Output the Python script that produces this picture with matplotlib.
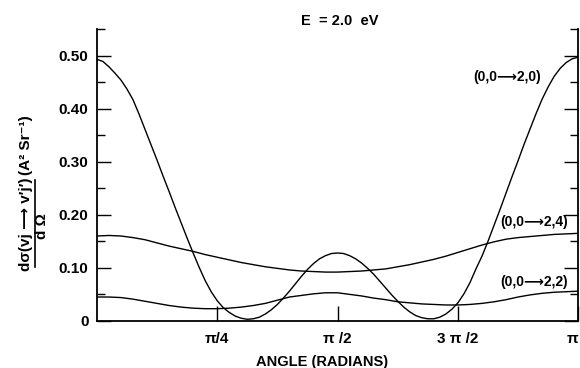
import matplotlib
import matplotlib.pyplot as plt
from matplotlib.lines import Line2D
from matplotlib.ticker import MultipleLocator
import numpy as np

matplotlib.use("Agg")

FONT = ["Liberation Sans Narrow", "Liberation Sans", "DejaVu Sans"]
plt.rcParams["font.family"] = FONT
plt.rcParams["font.weight"] = "bold"

# scattering angle in units of pi (fine grid for the strongly varying curve)
angle_fine = [i / 80 for i in range(81)]

# d sigma / d Omega for (0,0 -> 2,0)
xs_20 = [
    0.493, 0.489, 0.479, 0.467, 0.454, 0.437, 0.417, 0.390, 0.361, 0.332,
    0.303, 0.273, 0.244, 0.214, 0.185, 0.156, 0.128, 0.101, 0.076, 0.055,
    0.038, 0.025, 0.016, 0.009, 0.005, 0.003, 0.004, 0.007, 0.013, 0.021,
    0.031, 0.043, 0.056, 0.070, 0.084, 0.097, 0.108, 0.117, 0.123, 0.127,
    0.128, 0.127, 0.123, 0.117, 0.109, 0.099, 0.088, 0.075, 0.062, 0.049,
    0.037, 0.026, 0.017, 0.010, 0.006, 0.004, 0.004, 0.007, 0.013, 0.022,
    0.034, 0.051, 0.072, 0.098, 0.122, 0.150, 0.180, 0.210, 0.241, 0.272,
    0.302, 0.333, 0.362, 0.391, 0.418, 0.441, 0.461, 0.476, 0.487, 0.494,
    0.497,
]

# coarser grid for the two slowly varying curves
angle_pi = [i / 40 for i in range(41)]

# (0,0 -> 2,4)
xs_24 = [
    0.160, 0.161, 0.160, 0.157, 0.153, 0.147, 0.141, 0.136, 0.131, 0.125,
    0.120, 0.115, 0.110, 0.106, 0.102, 0.099, 0.096, 0.094, 0.093, 0.092,
    0.092, 0.093, 0.094, 0.096, 0.098, 0.102, 0.106, 0.111, 0.116, 0.122,
    0.129, 0.136, 0.143, 0.149, 0.154, 0.157, 0.159, 0.161, 0.163, 0.164,
    0.165,
]

# (0,0 -> 2,2)
xs_22 = [
    0.045, 0.045, 0.044, 0.041, 0.037, 0.033, 0.029, 0.026, 0.024, 0.023,
    0.023, 0.024, 0.026, 0.029, 0.033, 0.039, 0.045, 0.048, 0.051, 0.053,
    0.053, 0.050, 0.047, 0.043, 0.040, 0.036, 0.034, 0.032, 0.031, 0.030,
    0.030, 0.031, 0.033, 0.036, 0.040, 0.045, 0.049, 0.052, 0.054, 0.055,
    0.056,
]

curve_labels = ["(0,0\u27f62,0)", "(0,0\u27f62,4)", "(0,0\u27f62,2)"]
tick_pos_pi = [0.25, 0.5, 0.75, 1.0]
tick_text = ["\u03c0/4", "\u03c0 /2", "3 \u03c0 /2", "\u03c0"]
ytick_vals = [0, 0.1, 0.2, 0.3, 0.4, 0.5]
ytick_text = ["0", "0.10", "0.20", "0.30", "0.40", "0.50"]

fig = plt.figure(figsize=(5.8, 3.68), dpi=100)
ax = fig.add_axes([0.167, 0.128, 0.830, 0.793])

ax.plot(np.array(angle_fine) * np.pi, xs_20, color="black", lw=1.0)
ax.plot(np.array(angle_pi) * np.pi, xs_24, color="black", lw=1.0)
ax.plot(np.array(angle_pi) * np.pi, xs_22, color="black", lw=1.0)

ax.set_xlim(0, np.pi)
ax.set_ylim(0, 0.55)

ax.spines["top"].set_visible(False)
for side in ("left", "right", "bottom"):
    ax.spines[side].set_linewidth(1.3)

ax.set_yticks(ytick_vals)
ax.set_yticklabels(ytick_text)
ax.yaxis.set_minor_locator(MultipleLocator(0.05))
ax.tick_params(axis="y", which="both", direction="in", right=True,
               labelright=False, labelsize=11, pad=6)
ax.tick_params(axis="y", which="major", length=10, width=1.0)
ax.tick_params(axis="y", which="minor", length=6, width=1.0)

ax.set_xticks(np.array(tick_pos_pi) * np.pi)
ax.set_xticklabels(tick_text)
ax.tick_params(axis="x", which="major", direction="in", length=11,
               width=1.0, labelsize=11, pad=8)
ax.get_xticklabels()[-1].set_ha("right")

ax.set_xlabel("ANGLE (RADIANS)", fontsize=10.5, fontweight="bold")
ax.xaxis.set_label_coords(0.468, -0.118)

fig.text(0.586, 0.943, "E  = 2.0  eV", ha="center", va="center",
         fontsize=10.5, fontweight="bold")

# curve labels
ax.text(0.853 * np.pi, 0.460, curve_labels[0], ha="center", va="center",
        fontsize=10, fontweight="bold")
ax.text(0.909 * np.pi, 0.187, curve_labels[1], ha="center", va="center",
        fontsize=10, fontweight="bold")
ax.text(0.909 * np.pi, 0.074, curve_labels[2], ha="center", va="center",
        fontsize=10, fontweight="bold")

# y axis label drawn as a fraction
fig.text(0.044, 0.391, "d\u03c3(vj \u27f6 v\u2032j\u2032)", rotation=90,
         ha="center", va="center", fontsize=11, fontweight="bold")
fig.text(0.044, 0.605, "(A\u00b2 Sr\u207b\u00b9)", rotation=90,
         ha="center", va="center", fontsize=11, fontweight="bold")
fig.text(0.072, 0.386, "d \u03a9", rotation=90, ha="center", va="center",
         fontsize=11, fontweight="bold")
fig.add_artist(Line2D([0.060, 0.060], [0.275, 0.510], color="black",
                      lw=1.2, transform=fig.transFigure))

fig.savefig("out.png", dpi=100)
